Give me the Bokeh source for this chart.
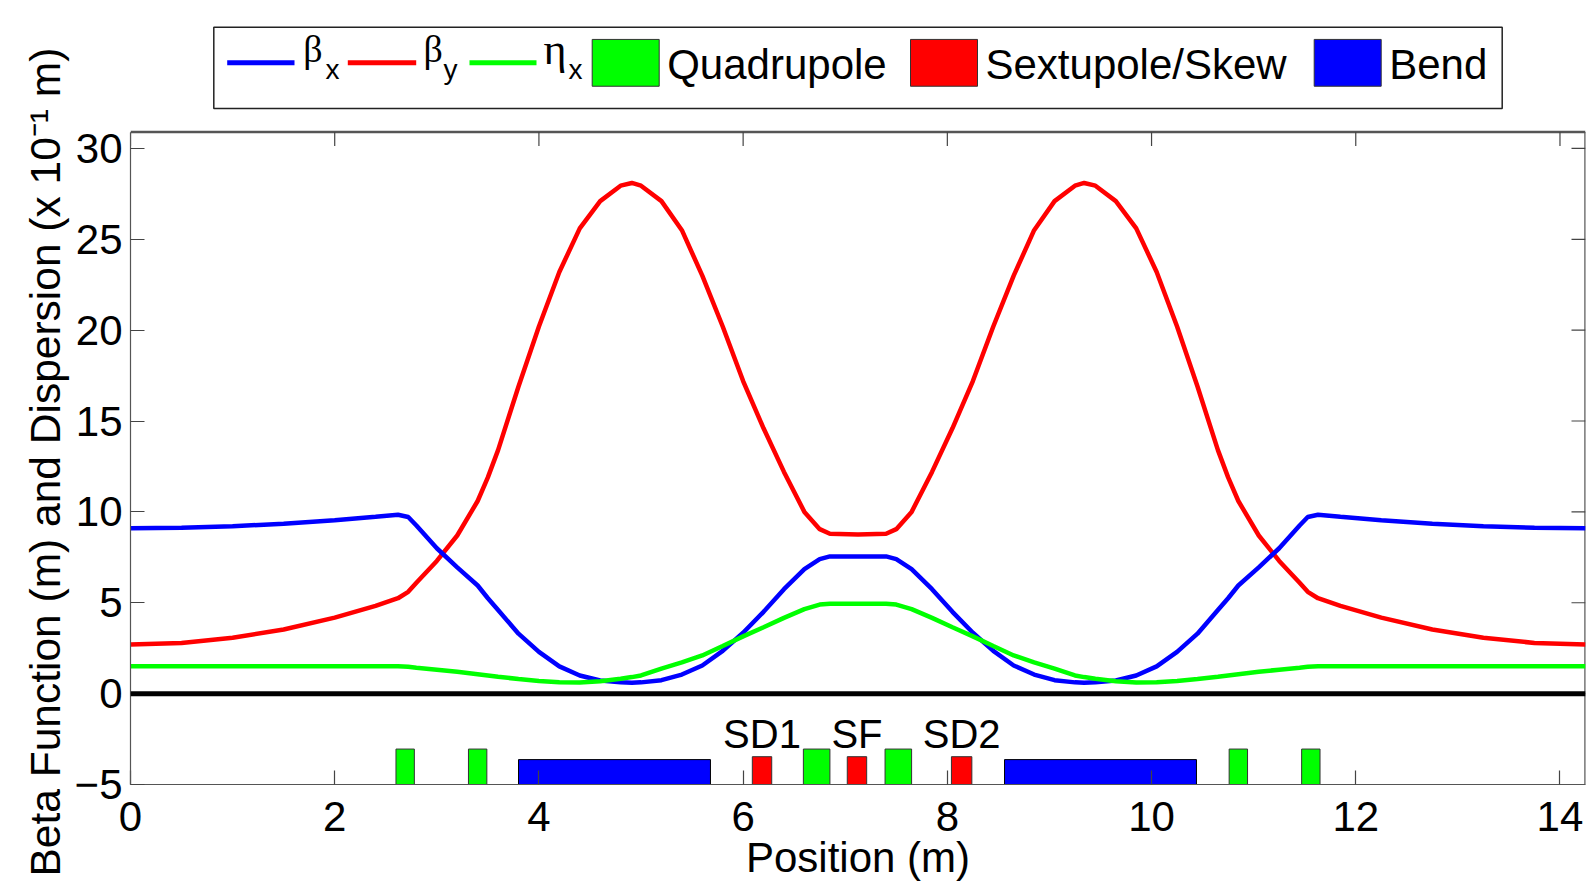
from bokeh.plotting import figure
from bokeh.models import Range1d, FixedTicker, Span, ColumnDataSource, Title
from bokeh.core.properties import value
from bokeh.embed import file_html
from bokeh.resources import INLINE

# ---------------- data ----------------
s_pos = [0.0, 0.5, 1.0, 1.5, 2.0, 2.4, 2.62, 2.72, 2.8, 3.0, 3.2, 3.4, 3.5, 3.6, 3.8, 4.0,
         4.2, 4.4, 4.6, 4.8, 4.91, 5.0, 5.2, 5.4, 5.6, 5.8, 6.0, 6.2, 6.4, 6.6, 6.75, 6.85,
         7.125,
         7.4, 7.5, 7.65, 7.85, 8.05, 8.25, 8.45, 8.65, 8.85, 9.05, 9.25, 9.34, 9.45, 9.65,
         9.85, 10.05, 10.25, 10.45, 10.65, 10.75, 10.85, 11.05, 11.25, 11.45, 11.53, 11.63,
         11.85, 12.25, 12.75, 13.25, 13.75, 14.25]

beta_x = [9.10, 9.13, 9.21, 9.35, 9.54, 9.73, 9.84, 9.72, 9.25, 8.00, 6.95, 5.95, 5.25, 4.60,
          3.30, 2.30, 1.50, 1.00, 0.72, 0.62, 0.60, 0.62, 0.74, 1.05, 1.55, 2.35, 3.35, 4.50,
          5.75, 6.85, 7.40, 7.55,
          7.55,
          7.55, 7.40, 6.85, 5.75, 4.50, 3.35, 2.35, 1.55, 1.05, 0.74, 0.62, 0.60, 0.62, 0.72,
          1.00, 1.50, 2.30, 3.30, 4.60, 5.25, 5.95, 6.95, 8.00, 9.25, 9.72, 9.84, 9.73, 9.54,
          9.35, 9.21, 9.13, 9.10]

beta_y = [2.70, 2.79, 3.07, 3.53, 4.18, 4.83, 5.25, 5.60, 6.10, 7.30, 8.70, 10.60, 11.90,
          13.40, 16.90, 20.20, 23.20, 25.60, 27.10, 27.95, 28.10, 27.95, 27.10, 25.50, 23.00,
          20.20, 17.20, 14.60, 12.20, 10.00, 9.05, 8.80,
          8.75,
          8.80, 9.05, 10.00, 12.20, 14.60, 17.20, 20.20, 23.00, 25.50, 27.10, 27.95, 28.10,
          27.95, 27.10, 25.60, 23.20, 20.20, 16.90, 13.40, 11.90, 10.60, 8.70, 7.30, 6.10,
          5.60, 5.25, 4.83, 4.18, 3.53, 3.07, 2.79, 2.70]

eta_x = [1.50, 1.50, 1.50, 1.50, 1.50, 1.50, 1.50, 1.48, 1.43, 1.32, 1.20, 1.07, 1.00, 0.93,
         0.80, 0.70, 0.63, 0.61, 0.68, 0.82, 0.91, 1.00, 1.38, 1.72, 2.10, 2.62, 3.15, 3.65,
         4.17, 4.65, 4.90, 4.95,
         4.95,
         4.95, 4.90, 4.65, 4.17, 3.65, 3.15, 2.62, 2.10, 1.72, 1.38, 1.00, 0.91, 0.82, 0.68,
         0.61, 0.63, 0.70, 0.80, 0.93, 1.00, 1.07, 1.20, 1.32, 1.43, 1.48, 1.50, 1.50, 1.50,
         1.50, 1.50, 1.50, 1.50]

quad_start = [2.60, 3.31, 6.59, 7.39, 10.76, 11.47]
quad_end = [2.78, 3.49, 6.85, 7.65, 10.94, 11.65]
quad_top = [-3.05, -3.05, -3.05, -3.05, -3.05, -3.05]

sext_start = [6.09, 7.02, 8.04]
sext_end = [6.28, 7.21, 8.24]
sext_top = [-3.47, -3.47, -3.47]
sext_names = ["SD1", "SF", "SD2"]

bend_start = [3.80, 8.56]
bend_end = [5.68, 10.44]
bend_top = [-3.63, -3.63]

x_ticks = [0, 2, 4, 6, 8, 10, 12, 14]
y_ticks = [-5, 0, 5, 10, 15, 20, 25, 30]
y_tick_labels = {-5: "\u22125"}
x_label = "Position (m)"
y_label = "Beta Function (m) and Dispersion (x 10\u207b\u00b9 m)"
legend_magnets = ["Quadrupole", "Sextupole/Skew", "Bend"]

# ---------------- layout ----------------
W, H = 1593, 883
BL, BR, BT, BB = 130, 8, 20, 96          # frame spans page y 20..787 (legend lives on top)
X0, X1 = 0.0, 14.25
Y0, Y_BOX = -5.0, 30.9                   # visible axes box
BOX_TOP_PX = 132                         # page y of the visible box top
FONT = "Liberation Sans"
TXT_SHIFT = 13                           # text glyphs sit this many px below their anchor

frame_w = W - BL - BR
frame_h = H - BT - BB
ppx = frame_w / (X1 - X0)
ppy = (H - BB - BOX_TOP_PX) / (Y_BOX - Y0)
Y_TOP = Y_BOX + (BOX_TOP_PX - BT) / ppy


def dx(page_x):
    return X0 + (page_x - BL) / ppx


def dy(page_y):
    return Y_TOP - (page_y - BT) / ppy


p = figure(width=W, height=H, x_range=Range1d(X0, X1), y_range=Range1d(Y0, Y_TOP),
           output_backend="svg", toolbar_location=None,
           min_border_left=BL, min_border_top=BT, min_border_bottom=BB, min_border_right=BR)
p.grid.visible = False
p.outline_line_color = None
p.background_fill_color = "white"
p.border_fill_color = "white"

for ax in (p.xaxis[0], p.yaxis[0]):
    ax.major_tick_in = 14
    ax.major_tick_out = 0
    ax.minor_tick_line_color = None
    ax.major_tick_line_color = "#444444"
    ax.major_tick_line_width = 1.2
    ax.axis_line_color = "#555555"
    ax.axis_line_width = 1.2
    ax.major_label_text_font = FONT
    ax.major_label_text_font_size = "42px"
    ax.major_label_text_color = "black"
    ax.axis_label_text_font = FONT
    ax.axis_label_text_font_style = "normal"
    ax.axis_label_text_color = "black"

p.xaxis.ticker = FixedTicker(ticks=x_ticks)
p.yaxis.ticker = FixedTicker(ticks=y_ticks)
p.yaxis.bounds = (Y0, Y_BOX)
p.yaxis.major_label_overrides = y_tick_labels
p.xaxis.axis_label = x_label
p.xaxis.axis_label_text_font_size = "42px"
p.xaxis.major_label_standoff = 17
p.xaxis.axis_label_standoff = 0
p.yaxis.major_label_standoff = 8

# y label as a left-side title, anchored so that it is centred on the visible box
y_title = Title(text=y_label, align="left", offset=(H - BB) - 879, standoff=6,
                text_font=FONT, text_font_size="42.5px", text_font_style="normal",
                text_color="black")
p.add_layout(y_title, "left")

# visible box (top and right edges) with inward mirror ticks
p.segment(x0=[X0, X1], y0=[Y_BOX, Y0], x1=[X1, X1], y1=[Y_BOX, Y_BOX],
          line_color="#555555", line_width=2.4)
p.segment(x0=x_ticks, y0=[Y_BOX] * len(x_ticks), x1=x_ticks,
          y1=[Y_BOX - 14 / ppy] * len(x_ticks), line_color="#444444", line_width=1.2)
p.segment(x0=[X1] * len(y_ticks), y0=y_ticks, x1=[X1 - 14 / ppx] * len(y_ticks),
          y1=y_ticks, line_color="#444444", line_width=1.2)

# magnets
p.quad(left=bend_start, right=bend_end, bottom=Y0, top=bend_top,
       fill_color="#0000FF", line_color="black", line_width=1)
p.quad(left=quad_start, right=quad_end, bottom=Y0, top=quad_top,
       fill_color="#00FF00", line_color="#333333", line_width=1)
p.quad(left=sext_start, right=sext_end, bottom=Y0, top=sext_top,
       fill_color="#FF0000", line_color="#333333", line_width=1)

sext_src = ColumnDataSource(dict(
    x=[(a + b) / 2 for a, b in zip(sext_start, sext_end)],
    y=[dy(749 - TXT_SHIFT)] * len(sext_names),
    t=sext_names))
p.text(x="x", y="y", text="t", source=sext_src, text_align="center",
       text_baseline="alphabetic", text_font=value(FONT), text_font_size="40px",
       text_color="black")

# zero line
p.add_layout(Span(location=0, dimension="width", line_color="black", line_width=5))

# optics curves
p.line(s_pos, beta_y, line_color="#FF0000", line_width=4.5)
p.line(s_pos, beta_x, line_color="#0000FF", line_width=4.5)
p.line(s_pos, eta_x, line_color="#00FF00", line_width=4.5)

# ---------------- legend (inside the upper, axis-free part of the frame) ----------------
p.quad(left=[dx(213.3)], right=[dx(1501.7)], top=[dy(26.7)], bottom=[dy(108.3)],
       fill_color="white", line_color="#222222", line_width=1.5)

line_items = [("#0000FF", 226.7, 294.0, "\u03b2", "x", 302.7, 325.0),
              ("#FF0000", 347.3, 415.7, "\u03b2", "y", 423.0, 443.0),
              ("#00FF00", 469.0, 536.0, "\u03b7", "x", 543.0, 568.0)]
for color, l, r, sym, sub, sym_x, sub_x in line_items:
    p.segment(x0=[dx(l)], x1=[dx(r)], y0=[dy(62.3)], y1=[dy(62.3)],
              line_color=color, line_width=5)
    p.text(x=[dx(sym_x)], y=[dy(62 - TXT_SHIFT)], text=[sym],
           text_font=value("Liberation Serif"),
           text_font_size="38px" if sym == "\u03b2" else "44px", text_color="black",
           text_baseline="alphabetic", text_align="left")
    p.text(x=[dx(sub_x)], y=[dy(82.5 - TXT_SHIFT)], text=[sub], text_font=value(FONT),
           text_font_size="28px", text_color="black",
           text_baseline="alphabetic", text_align="left")

swatches = [("#00FF00", 591.7), ("#FF0000", 910.0), ("#0000FF", 1313.7)]
for (color, l), name in zip(swatches, legend_magnets):
    p.quad(left=[dx(l)], right=[dx(l + 67)], top=[dy(39)], bottom=[dy(86)],
           fill_color=color, line_color="#333333", line_width=1)
    p.text(x=[dx(l + 75)], y=[dy(79 - TXT_SHIFT - 2)], text=[name], text_font=value(FONT),
           text_font_size="42px", text_color="black",
           text_baseline="alphabetic", text_align="left")

open("out.html", "w").write(file_html(p, INLINE))
